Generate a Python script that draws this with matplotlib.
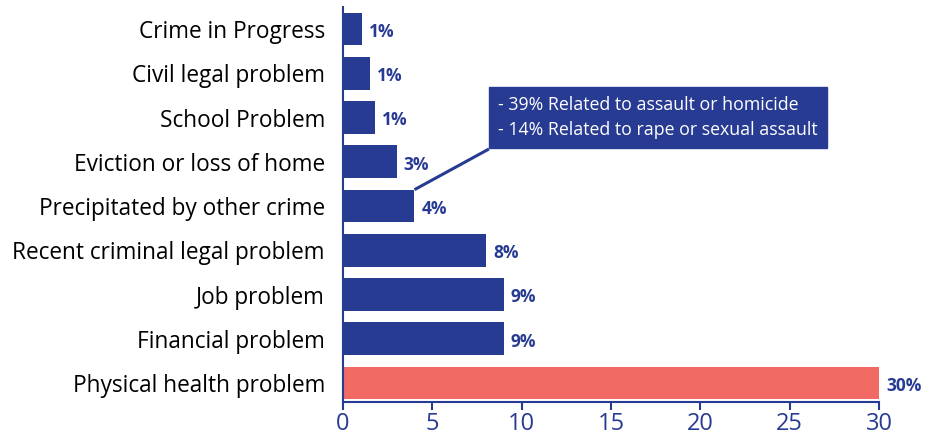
import matplotlib.pyplot as plt

categories = ["Crime in Progress", "Civil legal problem", "School Problem",
              "Eviction or loss of home", "Precipitated by other crime",
              "Recent criminal legal problem", "Job problem",
              "Financial problem", "Physical health problem"]
values = [1.05, 1.5, 1.8, 3.0, 4.0, 8.0, 9.0, 9.0, 30.0]
labels = ["1%", "1%", "1%", "3%", "4%", "8%", "9%", "9%", "30%"]
xticks = [0, 5, 10, 15, 20, 25, 30]
note = "- 39% Related to assault or homicide\n- 14% Related to rape or sexual assault"

navy = "#283b93"
red = "#f26a64"
plt.rcParams['font.family'] = ['Open Sans', 'DejaVu Sans']

fig = plt.figure(figsize=(9.26, 4.34), dpi=100)
ax = fig.add_axes([343/926, 1 - 402/434, (879-343)/926, (402-7)/434])

n = len(categories)
ypos = [n - 1 - i for i in range(n)]
colors = [red if c == "Physical health problem" else navy for c in categories]
ax.barh(ypos, values, height=0.74, color=colors)

for y, v, lab in zip(ypos, values, labels):
    ax.annotate(lab, (v, y), xytext=(5, -2), textcoords="offset points",
                va="center", ha="left", color=navy, fontsize=12.5, fontweight="bold")

ax.set_yticks(ypos)
ax.set_yticklabels(categories, fontsize=16.3, color="black")
ax.set_xticks(xticks)
ax.set_xticklabels([str(t) for t in xticks], fontsize=17, color=navy)
ax.set_xlim(0, 30)
ax.set_ylim(-0.43, n - 1 + 0.5)

for s in ["top", "right"]:
    ax.spines[s].set_visible(False)
for s in ["left", "bottom"]:
    ax.spines[s].set_color(navy)
    ax.spines[s].set_linewidth(1.5)
ax.tick_params(axis="y", length=0, pad=13)
ax.tick_params(axis="x", color=navy, length=6, width=1.5, pad=1)

# callout for "Precipitated by other crime"
py = ypos[categories.index("Precipitated by other crime")]
corner = (8.17, 5.29)
ax.plot([values[4], corner[0]], [py + 0.37, corner[1]], color=navy, lw=2.2,
        solid_capstyle="butt", clip_on=False)
ax.annotate(note, xy=corner, xytext=(6.5, 7), textcoords="offset points",
            color="white", fontsize=12.8, va="bottom", ha="left", linespacing=1.55,
            bbox=dict(boxstyle="square,pad=0.5", fc=navy, ec=navy),
            annotation_clip=False)

fig.savefig("out.png", dpi=100)
